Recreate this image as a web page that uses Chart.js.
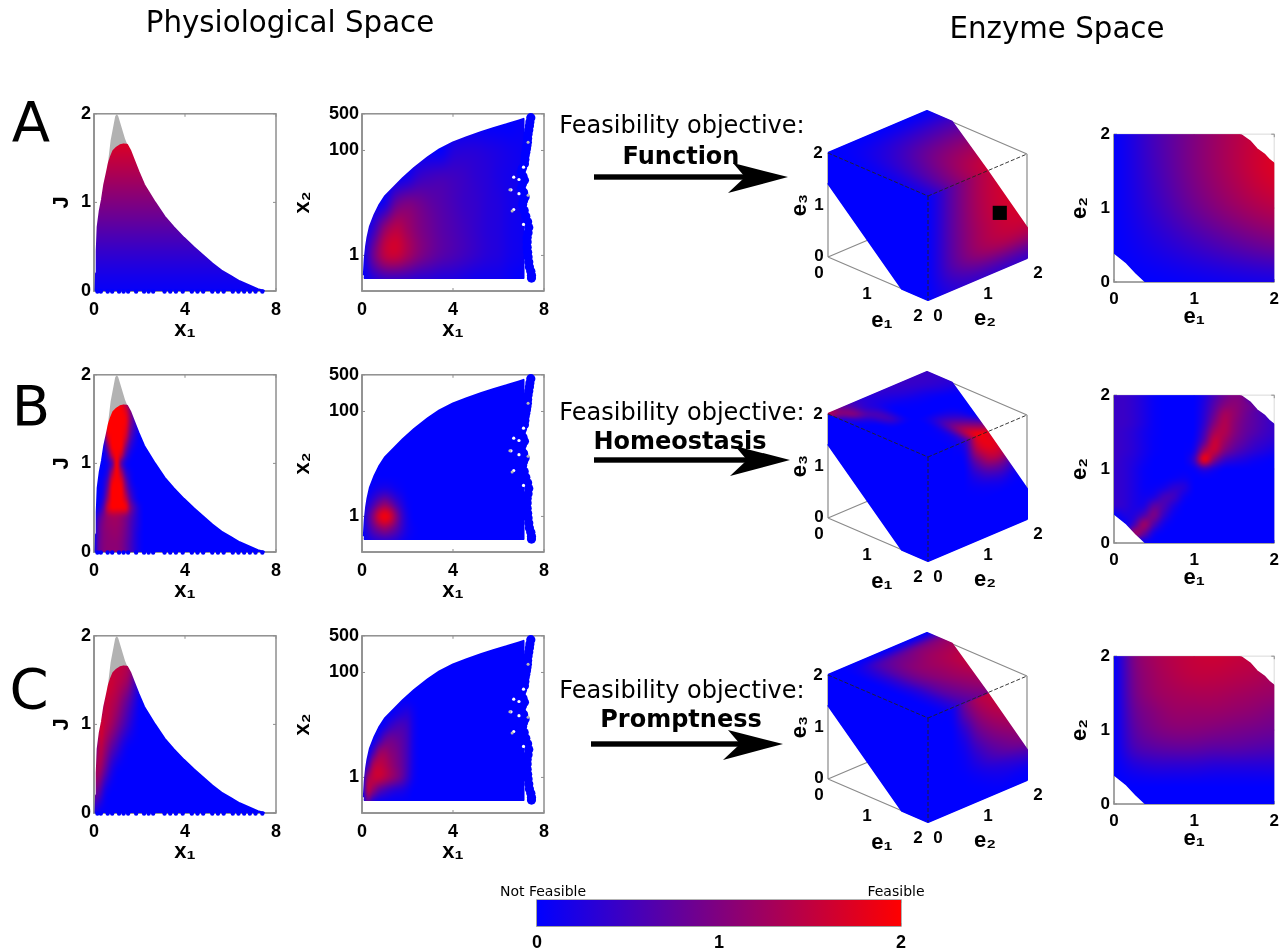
<!DOCTYPE html>
<html>
<head>
<meta charset="utf-8">
<title>Feasibility objectives</title>
<script src="https://cdn.jsdelivr.net/npm/chart.js@4/dist/chart.umd.js"></script>
<style>
  html, body { margin: 0; background: #fff; }
  #fig { position: relative; width: 1286px; height: 950px; overflow: hidden; filter: blur(0.45px); }
  #fig canvas { position: absolute; }
  #fig svg { position: absolute; left: 0; top: 0; }
  .t { position: absolute; transform: translate(-50%, -50%); white-space: nowrap; color: #000; }
  .sans { font-family: "DejaVu Sans"; }
  .tick { font: bold 17px "Liberation Sans", "DejaVu Sans"; }
  .lab { font: bold 22px "Liberation Sans", "DejaVu Sans"; }
</style>
</head>
<body>
<div id="fig"></div>
<script>
// panel text
const rowLetters = ['A', 'B', 'C'];
const objectives = ['Function', 'Homeostasis', 'Promptness'];

// outline of the physiological space, J against x1
const jTopX = [0.07, 0.09, 0.12, 0.16, 0.25, 0.35, 0.45, 0.56, 0.65, 0.75, 0.85, 1, 1.15, 1.3, 1.45, 1.6, 1.75, 1.95, 2.2, 2.68, 3.1, 3.5, 3.95, 4.4, 4.8, 5.2, 5.6, 6, 6.4, 6.8, 7.2, 7.5];
const jTopY = [0, 0.2, 0.45, 0.72, 0.9, 1.03, 1.2, 1.33, 1.44, 1.52, 1.58, 1.62, 1.645, 1.655, 1.65, 1.58, 1.48, 1.35, 1.2, 1, 0.84, 0.72, 0.6, 0.49, 0.4, 0.31, 0.23, 0.17, 0.11, 0.065, 0.02, 0];
const greyX = [0.5, 0.73, 0.93, 1, 1.07, 1.36, 1.7];
const greyY = [1.2, 1.7, 1.97, 2, 1.97, 1.72, 1.5];
const jDotsX = [0.15, 0.3, 0.6, 0.8, 1.1, 1.3, 1.5, 1.85, 2.2, 2.4, 2.6, 3.1, 3.35, 3.6, 3.9, 4.3, 4.55, 4.8, 5.2, 5.45, 5.7, 6.1, 6.35, 6.6, 6.85, 7.1, 7.4];

// outline of x2 against x1 (log axis)
const x2TopX = [0.08, 0.12, 0.18, 0.24, 0.35, 0.55, 0.75, 1, 1.4, 1.8, 2.3, 2.9, 3.4, 4, 4.6, 5.25, 5.8, 6.35, 6.9, 7.1, 7.1, 0.08];
const x2TopY = [0.42, 0.85, 1.5, 2.2, 3.6, 6, 9, 13.3, 20, 30, 47, 75, 105, 143, 180, 226, 270, 316, 375, 400, 0.37, 0.37];
const x2DotsX = [7.42, 7.38, 7.36, 7.33, 7.3, 7.28, 7.27, 7.25, 7.23, 7.2, 7.17, 7.16, 7.14, 7.05, 7, 7.08, 7.14, 7.05, 7, 7.1, 7.17, 7.1, 7.06, 7.13, 7.2, 7.28, 7.33, 7.3, 7.26, 7.26, 7.26, 7.28, 7.3, 7.33, 7.36, 7.42, 7.45, 7.45];
const x2DotsY = [422, 350, 295, 245, 205, 170, 143, 125, 108, 93, 80, 67, 56, 46, 39, 32, 27, 23, 19, 16, 13, 11, 9.3, 7.2, 5.6, 4.4, 3.4, 2.7, 2.2, 1.8, 1.43, 1.15, 0.93, 0.75, 0.6, 0.5, 0.42, 0.37];
const holesX = [6.55, 6.67, 6.9, 7.1, 6.67, 7.1, 6.9];
const holesY = [17.8, 31, 28, 48, 7.5, 3.9, 15];
const greyDotsX = [7.3, 7.3, 6.5, 6.6];
const greyDotsY = [143, 14, 17.8, 7];

// outline of e2 against e1
const eX = [0, 1.57, 1.7, 1.78, 1.88, 1.94, 2, 2, 0.4, 0.28, 0.16, 0, 0];
const eY = [2, 2, 1.9, 1.8, 1.72, 1.65, 1.6, 0, 0, 0.12, 0.26, 0.4, 2];

// 3D box faces of the feasible block
const topE1 = [0, 0, 0.5, 2, 2];
const topE2 = [0, 2, 2, 1.2, 0];
const leftE1 = [0, 2, 2, 1.48, 0];
const leftE3 = [2, 2, 0, 0, 1.42];
const rightE2 = [0, 1.2, 2, 2, 0];
const rightE3 = [2, 2, 0.58, 0, 0];
const boxEdges = [
  [[0, 0, 0], [0, 0, 2]], [[0, 0, 0], [2, 0, 0]], [[0, 0, 0], [0, 2, 0]], [[2, 0, 0], [2, 2, 0]],
  [[0, 2, 2], [2, 2, 2]], [[2, 2, 0], [2, 2, 2]], [[0, 2, 0], [0, 2, 2]], [[0, 0, 2], [0, 2, 2]]
];
const frontEdges = [[[0, 0, 2], [2, 0, 2]], [[2, 0, 2], [2, 2, 2]], [[2, 0, 2], [2, 0, 0]]];
const markerA = [2, 1.45, 1.09];

// feasibility, rows run from the top of the panel down
const jHeatA = [[2, 2], [1, 1], [0, 0]];
const jHeatB = [
  [0, 0, 0, 1.5, 1.9, 2, 1.8, 1.3, 0.7, 0.3],
  [0, 0, 0, 1.9, 2, 2, 2, 1.7, 1, 0.4],
  [0, 0, 0.9, 2, 2, 2, 2, 1.9, 1.1, 0.5, 0.15],
  [0, 0, 0.7, 2, 2, 2, 2, 1.8, 0.95, 0.4, 0.1],
  [0, 0, 0.3, 1.7, 2, 2, 2, 1.6, 0.7, 0.25],
  [0, 0, 0.05, 1.1, 2, 2, 2, 1.1, 0.4, 0.1],
  [0, 0, 0, 0.5, 1.6, 2, 1.6, 0.6, 0.15],
  [0, 0, 0, 0.15, 0.7, 2, 0.7, 0.15],
  [0, 0, 0, 0.3, 1.3, 2, 1.3, 0.4, 0.1],
  [0, 0, 0.1, 0.6, 1.8, 2, 1.8, 0.8, 0.2],
  [0, 0, 0.15, 0.9, 2, 2, 2, 1.1, 0.4, 0.1],
  [0, 0, 0.3, 1.2, 2, 2, 2, 1.5, 0.65, 0.2],
  [0, 0.1, 0.6, 1.6, 2, 2, 2, 1.9, 1, 0.5, 0.15],
  [0, 0.5, 0.9, 1.2, 1.3, 1.3, 1.2, 1, 0.7, 0.4, 0.15],
  [0, 0.7, 1, 1.15, 1.2, 1.2, 1.1, 0.9, 0.6, 0.35, 0.15],
  [0, 0.7, 1, 1.1, 1.15, 1.15, 1.05, 0.85, 0.6, 0.3, 0.1],
  [0, 0.75, 1, 1.1, 1.1, 1.1, 1, 0.8, 0.55, 0.3, 0.1],
  [0, 0.75, 1, 1.1, 1.1, 1.1, 1, 0.8, 0.55, 0.3, 0.1]
];
const jHeatC = [
  [0, 0, 0, 1.3, 1.5, 1.5, 1.4, 1.2],
  [0, 0, 1.5, 1.6, 1.5, 1.4, 1.2, 0.7, 0.2],
  [0, 0.8, 1.55, 1.45, 1.3, 1, 0.7, 0.35, 0.05],
  [0, 1.6, 1.5, 1.3, 1, 0.7, 0.4, 0.15],
  [0.5, 1.5, 1.2, 0.8, 0.5, 0.2, 0.03],
  [1.3, 1.3, 0.8, 0.3, 0.05],
  [1, 0.7, 0.15],
  [0.2]
];
const x2HeatA = [
  [0, 0, 0, 0, 0, 0, 0, 0, 0, 0, 0, 0, 0, 0, 0.05],
  [0, 0, 0, 0, 0, 0, 0, 0, 0.25, 0.3, 0.3, 0.25, 0.2, 0.15, 0.1],
  [0, 0, 0, 0, 0.1, 0.4, 0.5, 0.55, 0.5, 0.45, 0.35, 0.3, 0.2, 0.15, 0.1],
  [0, 0, 0.1, 0.8, 1, 0.9, 0.75, 0.65, 0.55, 0.45, 0.4, 0.3, 0.25, 0.15, 0.1],
  [0, 0.4, 1.2, 1.5, 1.25, 1, 0.85, 0.7, 0.6, 0.5, 0.4, 0.3, 0.25, 0.15, 0.1],
  [0, 0.9, 1.55, 1.65, 1.35, 1.05, 0.85, 0.7, 0.6, 0.5, 0.4, 0.3, 0.25, 0.15, 0.1],
  [0, 0.2, 0.3, 0.3, 0.3, 0.25, 0.25, 0.2, 0.2, 0.15, 0.1, 0.1, 0.1, 0.05]
];
const x2HeatB = [
  [0],
  [0],
  [0, 0, 0.1, 0.2, 0.25, 0.2, 0.1, 0.05],
  [0, 0.2, 0.5, 0.85, 1.05, 0.85, 0.5, 0.25, 0.05],
  [0, 0.5, 1.1, 1.75, 2, 1.75, 1.1, 0.5, 0.15],
  [0, 0.35, 0.7, 0.95, 1.1, 0.95, 0.7, 0.4, 0.15, 0.05],
  [0, 0.1, 0.2, 0.25, 0.25, 0.25, 0.2, 0.1, 0.05]
];
const x2HeatC = [
  [0],
  [0, 0, 0, 0, 0, 0, 0.1, 0.2, 0.25, 0.1],
  [0, 0, 0, 0, 0.1, 0.35, 0.5, 0.55, 0.45, 0.15],
  [0, 0, 0, 0.3, 0.7, 0.85, 0.8, 0.7, 0.5, 0.15],
  [0, 0, 0.5, 1.1, 1.2, 1.05, 0.95, 0.75, 0.5, 0.15],
  [0, 0.4, 1.3, 1.5, 1.4, 1.2, 1, 0.8, 0.5, 0.15],
  [0, 1.2, 1.55, 1.6, 1.45, 1.25, 1.05, 0.8, 0.45, 0.12],
  [0, 1.4, 1.1, 0.7, 0.5, 0.35, 0.25, 0.2, 0.1],
  [0, 0.6, 0.1]
];
const eHeatA = [
  [0, 0.55, 1, 1.4, 1.7],
  [0, 0.5, 1, 1.4, 1.75],
  [0, 0.4, 0.85, 1.2, 1.45],
  [0, 0.2, 0.45, 0.7, 0.9],
  [0, 0, 0.05, 0.1, 0.15]
];
const eHeatB = [
  [0.45, 0.45, 0.35, 0.2, 0.05, 0, 0, 0, 0, 0.2, 0.55, 0.85, 1, 0.9],
  [0.45, 0.45, 0.35, 0.2, 0.05, 0, 0, 0, 0, 0.25, 0.65, 1, 1.1, 0.95, 0.75, 0.55, 0.4],
  [0.45, 0.45, 0.35, 0.2, 0.05, 0, 0, 0, 0, 0.3, 0.8, 1.3, 1.15, 0.9, 0.7, 0.55, 0.4],
  [0.45, 0.45, 0.35, 0.2, 0.05, 0, 0, 0, 0, 0.35, 1, 1.4, 1.1, 0.85, 0.7, 0.55, 0.4],
  [0.45, 0.4, 0.3, 0.15, 0.05, 0, 0, 0, 0, 0.5, 1.3, 1.4, 1.05, 0.8, 0.65, 0.5, 0.4],
  [0.45, 0.4, 0.3, 0.15, 0.03, 0, 0, 0, 0.05, 0.7, 1.6, 1.25, 0.9, 0.7, 0.5, 0.4, 0.3],
  [0.45, 0.4, 0.3, 0.15, 0.03, 0, 0, 0, 0.15, 1.3, 1.6, 1, 0.7, 0.5, 0.35, 0.25, 0.15],
  [0.45, 0.35, 0.25, 0.1, 0, 0, 0, 0, 0.4, 2, 1, 0.45, 0.3, 0.2, 0.1, 0.05],
  [0.4, 0.35, 0.2, 0.05, 0, 0, 0, 0, 0.05, 0.35, 0.15],
  [0.4, 0.35, 0.2, 0.05, 0, 0, 0.05, 0.1],
  [0.4, 0.35, 0.2, 0.05, 0.05, 0.15, 0.35, 0.3],
  [0.4, 0.35, 0.2, 0.1, 0.2, 0.55, 0.5, 0.1],
  [0.4, 0.35, 0.2, 0.2, 0.75, 0.6, 0.2],
  [0, 0.2, 0.25, 0.6, 1, 0.4, 0.05],
  [0, 0, 0.5, 1.3, 0.6, 0.1],
  [0, 0, 1.3, 0.8, 0.1],
  [0]
];
const eHeatC = [
  [0, 1, 1.3, 1.45, 1.55, 1.6, 1.55, 1.5, 1.4],
  [0, 0.95, 1.25, 1.4, 1.5, 1.5, 1.45, 1.4, 1.3],
  [0, 0.9, 1.2, 1.3, 1.35, 1.35, 1.3, 1.25, 1.2],
  [0, 0.8, 1.05, 1.2, 1.2, 1.2, 1.15, 1.1, 1],
  [0, 0.7, 0.95, 1.05, 1.05, 1, 0.95, 0.9, 0.85],
  [0, 0.55, 0.7, 0.75, 0.75, 0.7, 0.7, 0.65, 0.6],
  [0, 0.2, 0.3, 0.3, 0.3, 0.25, 0.25, 0.25, 0.25],
  [0],
  [0]
];
const topHeatB = [
  [0.45, 0.4, 0.3, 0.1],
  [0.45, 0.4, 0.25, 0.05],
  [0.45, 0.35, 0.15, 0, 0, 0, 0, 0.4, 1],
  [0.4, 0.3, 0.1, 0, 0, 0.25, 0.6, 1.1, 1.7],
  [0.35, 0.2, 0.05, 0, 0, 0.4, 0.9, 1.5, 2],
  [0.3, 0.2, 0.05, 0, 0, 0, 0.1, 0.2, 0.4],
  [0.5, 0.4, 0.6, 0.5],
  [0.9, 1.1, 0.3],
  [1.5, 0.3]
];
const rightHeatA = [
  [0, 0.75, 1.35, 1.65, 1.7],
  [0, 0.75, 1.35, 1.65, 1.7],
  [0, 0.75, 1.3, 1.6, 1.7],
  [0, 0.7, 1.2, 1.4, 1.4],
  [0, 0.3, 0.4, 0.4, 0.4]
];
const rightHeatB = [
  [0, 0, 0, 0.3, 1.9, 1.7, 0.8],
  [0, 0, 0, 0.1, 1.5, 1.9, 1.5, 0.4],
  [0, 0, 0, 0, 0.8, 1.5, 1.5, 0.6],
  [0, 0, 0, 0, 0.3, 0.7, 0.8, 0.4],
  [0, 0, 0, 0, 0.05, 0.15, 0.25, 0.1],
  [0], [0], [0], [0]
];
const rightHeatC = [
  [0, 0, 0.1, 0.9, 1.4, 1.55, 1.6, 1.6, 1.6],
  [0, 0, 0.05, 0.7, 1.2, 1.45, 1.55, 1.55, 1.55],
  [0, 0, 0, 0.4, 0.95, 1.25, 1.4, 1.45, 1.45],
  [0, 0, 0, 0.2, 0.7, 1, 1.2, 1.3, 1.35],
  [0, 0, 0, 0.1, 0.45, 0.75, 0.95, 1.1, 1.2],
  [0, 0, 0, 0.05, 0.25, 0.5, 0.7, 0.85, 0.95],
  [0, 0, 0, 0, 0.08, 0.2, 0.3, 0.4, 0.5],
  [0, 0, 0, 0, 0, 0.05, 0.1, 0.1, 0.1],
  [0]
];

// colourbar
const barValues = [0, 1, 2];

const BLUE = 'rgb(0,0,255)';
const GREY = '#8f8f8f';
const titleFont = { family: 'Liberation Sans, DejaVu Sans', weight: 'bold', size: 22 };
const fig = document.getElementById('fig');
Chart.defaults.animation = false;
Chart.defaults.layout.autoPadding = false;

function colourOf(v) {
  const r = Math.round(v / 2 * 255);
  return 'rgb(' + r + ',0,' + (255 - r) + ')';
}

function zip(xs, ys) {
  return xs.map((x, i) => ({ x: x, y: ys[i] }));
}

// paints a value table, smoothed, into a pattern the size of the chart
function heatPattern(chart, grid, place) {
  const rows = grid.v;
  const nc = Math.max(...rows.map(r => r.length), grid.cols || 0);
  const nr = rows.length;
  const small = document.createElement('canvas');
  small.width = nc;
  small.height = nr;
  const s = small.getContext('2d');
  rows.forEach((row, j) => {
    for (let i = 0; i < nc; i++) {
      s.fillStyle = colourOf(row[i] || 0);
      s.fillRect(i, j, 1, 1);
    }
  });
  const off = document.createElement('canvas');
  off.width = chart.width;
  off.height = chart.height;
  const c = off.getContext('2d');
  c.fillStyle = BLUE;
  c.fillRect(0, 0, off.width, off.height);
  const o = place(grid.x0, grid.y0);
  const u = place(grid.x0 + grid.dx, grid.y0);
  const w = place(grid.x0, grid.y0 + grid.dy);
  const ux = u.x - o.x, uy = u.y - o.y, vx = w.x - o.x, vy = w.y - o.y;
  c.imageSmoothingEnabled = true;
  c.imageSmoothingQuality = 'high';
  c.setTransform(ux, uy, vx, vy, o.x - 0.5 * ux - 0.5 * vx, o.y - 0.5 * uy - 0.5 * vy);
  c.drawImage(small, 0, 0);
  return chart.ctx.createPattern(off, 'no-repeat');
}

function heatFill(grid, place) {
  let pattern = null;
  return ctx => {
    const chart = ctx.chart;
    if (!chart.chartArea) return BLUE;
    if (!pattern) pattern = heatPattern(chart, grid, (a, b) => place(chart, a, b));
    return pattern;
  };
}

function linePlace(chart, a, b) {
  return { x: chart.scales.x.getPixelForValue(a), y: chart.scales.y.getPixelForValue(b) };
}

function logPlace(chart, a, b) {
  return { x: chart.scales.x.getPixelForValue(a), y: chart.scales.y.getPixelForValue(Math.pow(10, b)) };
}

function polygon(points, fillStyle, width) {
  return {
    data: points, showLine: true, fill: 'shape', tension: 0, pointRadius: 0,
    backgroundColor: fillStyle, borderColor: fillStyle, borderWidth: width === undefined ? 2 : width,
    borderJoinStyle: 'round'
  };
}

function dots(points, colour, radius) {
  return { data: points, showLine: false, pointRadius: radius, backgroundColor: colour, borderWidth: 0, clip: 8 };
}

// axis frame with the short inward ticks
const framePlugin = {
  id: 'frame',
  beforeDatasetsDraw(chart, args, opts) {
    const a = chart.chartArea;
    const ctx = chart.ctx;
    ctx.save();
    ctx.strokeStyle = opts.fade || opts.colour;
    ctx.lineWidth = 1.5;
    ctx.strokeRect(a.left, a.top, a.right - a.left, a.bottom - a.top);
    ctx.strokeStyle = opts.colour;
    ctx.beginPath();
    ctx.moveTo(a.left, a.top);
    ctx.lineTo(a.left, a.bottom);
    ctx.lineTo(a.right, a.bottom);
    ctx.stroke();
    ctx.lineWidth = 1;
    ctx.beginPath();
    chart.scales.x.ticks.forEach(t => {
      const p = chart.scales.x.getPixelForValue(t.value);
      ctx.moveTo(p, a.top); ctx.lineTo(p, a.top + 3);
      ctx.moveTo(p, a.bottom); ctx.lineTo(p, a.bottom - 3);
    });
    if (chart.scales.y.type !== 'category') {
      chart.scales.y.ticks.forEach(t => {
        const p = chart.scales.y.getPixelForValue(t.value);
        ctx.moveTo(a.left, p); ctx.lineTo(a.left + 3, p);
        ctx.moveTo(a.right, p); ctx.lineTo(a.right - 3, p);
      });
    }
    ctx.stroke();
    ctx.restore();
  }
};

function addCanvas(left, top, width, height) {
  const cv = document.createElement('canvas');
  cv.width = width;
  cv.height = height;
  cv.style.left = left + 'px';
  cv.style.top = top + 'px';
  fig.appendChild(cv);
  return cv;
}

function axis(o) {
  return {
    type: o.type || 'linear',
    min: o.min,
    max: o.max,
    border: { display: false },
    grid: { display: false, drawTicks: false, tickLength: 0 },
    afterBuildTicks: s => { s.ticks = o.ticks.map(v => ({ value: v })); },
    afterFit: s => { if (o.width) s.width = o.width; if (o.height) s.height = o.height; },
    ticks: {
      autoSkip: false, maxRotation: 0, minRotation: 0, color: '#000', padding: o.pad,
      font: { family: 'Liberation Sans, DejaVu Sans', weight: 'bold', size: o.size || 18 },
      callback: v => String(v)
    },
    title: { display: !!o.title, text: o.title, color: '#000', font: titleFont, padding: 0 }
  };
}

function panel(box, m, xAxis, yAxis, datasets, frame) {
  const cv = addCanvas(box.left - m.l, box.top - m.t, box.w + m.l + m.r, box.h + m.t + m.b);
  return new Chart(cv, {
    type: 'scatter',
    data: { datasets: datasets },
    plugins: [framePlugin],
    options: {
      responsive: false,
      events: [],
      layout: { padding: { left: 0, right: m.r, top: m.t, bottom: 0 } },
      plugins: { legend: { display: false }, tooltip: { enabled: false }, frame: frame },
      scales: { x: axis(Object.assign({ height: m.b }, xAxis)), y: axis(Object.assign({ width: m.l }, yAxis)) }
    }
  });
}

function jPanel(rowY, grid) {
  panel({ left: 94, top: 112 + rowY, w: 182, h: 179 }, { l: 45, r: 20, t: 12, b: 52 },
    { min: 0, max: 8, ticks: [0, 4, 8], pad: 8, title: 'x₁' },
    { min: 0, max: 2, ticks: [0, 1, 2], pad: 3, title: 'J' },
    [
      dots(zip(jDotsX, jDotsX.map(() => -0.005)), BLUE, 2.2),
      polygon(zip(jTopX, jTopY), heatFill(grid, linePlace)),
      polygon(zip(greyX, greyY), '#b2b2b2', 0)
    ],
    { colour: GREY });
}

function x2Panel(rowY, grid) {
  panel({ left: 362, top: 112 + rowY, w: 182, h: 179 }, { l: 72, r: 20, t: 12, b: 52 },
    { min: 0, max: 8, ticks: [0, 4, 8], pad: 8, title: 'x₁' },
    { type: 'logarithmic', min: 0.21, max: 500, ticks: [1, 100, 500], pad: 3, title: 'x₂' },
    [
      dots(zip(greyDotsX, greyDotsY), '#b8b8b8', 1.5),
      dots(zip(holesX, holesY), '#ffffff', 1.6),
      dots(zip(x2DotsX, x2DotsY), BLUE, 4.6),
      polygon(zip(x2TopX, x2TopY), heatFill(grid, logPlace))
    ],
    { colour: GREY });
}

function ePanel(rowY, grid) {
  panel({ left: 1114, top: 132 + rowY, w: 165, h: 150 }, { l: 47, r: 7, t: 12, b: 48 },
    { min: 0, max: 2, ticks: [0, 1, 2], pad: 7, size: 17, title: 'e₁' },
    { min: 0, max: 2, ticks: [0, 1, 2], pad: 4, size: 17, title: 'e₂' },
    [polygon(zip(eX, eY), heatFill(grid, linePlace))],
    { colour: GREY, fade: '#e6e6e6' });
}

// axonometric view of the enzyme box, in pixels of the cube's own plane
function project(e) {
  return { x: 50 * e[0] + 49.5 * e[1], y: -21.5 * e[0] + 21 * e[1] + 52 * e[2] };
}

function edgeSet(edges, colour, width, dash) {
  const pts = [];
  edges.forEach(pair => {
    pts.push(project(pair[0]), project(pair[1]), { x: NaN, y: NaN });
  });
  return { data: pts, showLine: true, spanGaps: false, pointRadius: 0, borderColor: colour, borderWidth: width, borderDash: dash || [] };
}

function cubePanel(rowY, topGrid, rightGrid, marker) {
  const cv = addCanvas(808, 102 + rowY, 260, 210);
  const topPlace = (chart, a, b) => { const p = project([a, b, 2]); return linePlace(chart, p.x, p.y); };
  const rightPlace = (chart, a, b) => { const p = project([2, a, b]); return linePlace(chart, p.x, p.y); };
  const sets = [];
  if (marker) sets.push({ data: [project(marker)], showLine: false, pointStyle: 'rect', pointRadius: 10, backgroundColor: '#000', borderWidth: 0 });
  sets.push(edgeSet(frontEdges, '#222', 0.9, [4, 2]));
  sets.push(polygon(topE1.map((v, i) => project([v, topE2[i], 2])), heatFill(topGrid, topPlace)));
  sets.push(polygon(rightE2.map((v, i) => project([2, v, rightE3[i]])), heatFill(rightGrid, rightPlace)));
  sets.push(polygon(leftE1.map((v, i) => project([v, 0, leftE3[i]])), BLUE));
  sets.push(edgeSet(boxEdges, '#8a8a8a', 1.2));
  new Chart(cv, {
    type: 'scatter',
    data: { datasets: sets },
    options: {
      responsive: false,
      events: [],
      layout: { padding: 0 },
      plugins: { legend: { display: false }, tooltip: { enabled: false } },
      scales: {
        x: { type: 'linear', display: false, min: -20, max: 240 },
        y: { type: 'linear', display: false, min: -55, max: 155 }
      }
    }
  });
}

function text(str, x, y, cls, css) {
  const d = document.createElement('div');
  d.className = 't ' + cls;
  d.textContent = str;
  d.style.left = x + 'px';
  d.style.top = y + 'px';
  if (css) d.style.cssText += css;
  fig.appendChild(d);
}

function cubeLabels(rowY) {
  const ticks = [['2', 818, 153], ['1', 819, 205], ['0', 819, 256], ['0', 819, 273], ['1', 867, 294],
    ['2', 918, 316], ['0', 938, 316], ['1', 988, 294], ['2', 1038, 273]];
  ticks.forEach(t => text(t[0], t[1], t[2] + rowY, 'tick'));
  text('e₁', 882, 320 + rowY, 'lab');
  text('e₂', 985, 318 + rowY, 'lab');
  text('e₃', 799, 205 + rowY, 'lab', 'transform:translate(-50%,-50%) rotate(-90deg);');
}

function arrow(x0, tip, y) {
  const ns = 'http://www.w3.org/2000/svg';
  const svg = document.createElementNS(ns, 'svg');
  svg.setAttribute('width', 1286);
  svg.setAttribute('height', 950);
  const shaft = document.createElementNS(ns, 'rect');
  shaft.setAttribute('x', x0);
  shaft.setAttribute('y', y - 2.7);
  shaft.setAttribute('width', tip - 40 - x0);
  shaft.setAttribute('height', 5.4);
  const head = document.createElementNS(ns, 'polygon');
  head.setAttribute('points', [[tip, y], [tip - 60, y + 16], [tip - 43, y], [tip - 55, y - 14]].join(' '));
  svg.appendChild(shaft);
  svg.appendChild(head);
  fig.appendChild(svg);
}

function colourbar() {
  const cv = addCanvas(537 - 20, 900 - 6, 364 + 40, 26 + 6 + 28);
  new Chart(cv, {
    type: 'bar',
    data: {
      labels: [''],
      datasets: [{
        data: [[barValues[0], barValues[barValues.length - 1]]],
        barPercentage: 1,
        categoryPercentage: 1,
        backgroundColor: ctx => {
          const chart = ctx.chart;
          if (!chart.chartArea) return BLUE;
          const x = chart.scales.x;
          const g = chart.ctx.createLinearGradient(x.getPixelForValue(0), 0, x.getPixelForValue(2), 0);
          barValues.forEach(v => g.addColorStop(v / 2, colourOf(v)));
          return g;
        }
      }]
    },
    plugins: [framePlugin],
    options: {
      indexAxis: 'y',
      responsive: false,
      events: [],
      layout: { padding: { left: 20, right: 20, top: 6, bottom: 0 } },
      plugins: { legend: { display: false }, tooltip: { enabled: false }, frame: { colour: '#9a9a9a' } },
      scales: {
        x: axis({ min: 0, max: 2, ticks: barValues, pad: 6, title: '', height: 28 }),
        y: { display: false, type: 'category' }
      }
    }
  });
}

function build() {
  const rowY = [0, 261, 522];
  const jGrids = [
    { x0: 0, dx: 8, y0: 2, dy: -1, v: jHeatA },
    { x0: 0, dx: 0.2, y0: 1.7, dy: -0.1, cols: 16, v: jHeatB },
    { x0: 0, dx: 0.25, y0: 1.75, dy: -0.25, cols: 12, v: jHeatC }
  ];
  const x2Grids = [
    { x0: 0, dx: 0.5, y0: 2.5, dy: -0.5, cols: 17, v: x2HeatA },
    { x0: 0, dx: 0.25, y0: 1, dy: -0.25, cols: 11, v: x2HeatB },
    { x0: 0, dx: 0.25, y0: 1.5, dy: -0.25, cols: 12, v: x2HeatC }
  ];
  const eGrids = [
    { x0: 0, dx: 0.5, y0: 2, dy: -0.5, v: eHeatA },
    { x0: 0, dx: 0.125, y0: 2, dy: -0.125, cols: 17, v: eHeatB },
    { x0: 0, dx: 0.25, y0: 2, dy: -0.25, v: eHeatC }
  ];
  const topGrids = [eGrids[0], { x0: 0, dx: 0.25, y0: 2, dy: -0.25, cols: 9, v: topHeatB }, eGrids[2]];
  const rightGrids = [
    { x0: 0, dx: 0.5, y0: 2, dy: -0.5, v: rightHeatA },
    { x0: 0, dx: 0.25, y0: 2, dy: -0.25, cols: 9, v: rightHeatB },
    { x0: 0, dx: 0.25, y0: 2, dy: -0.25, cols: 9, v: rightHeatC }
  ];
  rowY.forEach((y, i) => {
    jPanel(y, jGrids[i]);
    x2Panel(y, x2Grids[i]);
    ePanel(y, eGrids[i]);
    cubePanel(y, topGrids[i], rightGrids[i], i === 0 ? markerA : null);
    cubeLabels(y);
  });
  colourbar();

  text('Physiological Space', 290, 22, 'sans', 'font-size:29.3px;');
  text('Enzyme Space', 1057, 28, 'sans', 'font-size:29.3px;');
  const letterX = [31, 31, 29];
  const letterY = [121, 405, 688];
  rowLetters.forEach((l, i) => text(l, letterX[i], letterY[i], 'sans', 'font-size:56px;'));
  const feasY = [125, 412, 690];
  const nameY = [156, 441, 719];
  const nameX = [681, 680, 681];
  objectives.forEach((n, i) => {
    text('Feasibility objective:', 682, feasY[i], 'sans', 'font-size:24px;');
    text(n, nameX[i], nameY[i], 'sans', 'font-size:24px;font-weight:bold;');
  });
  arrow(594, 788, 177);
  arrow(594, 790, 460);
  arrow(591, 783, 744);
  text('Not Feasible', 543, 891, 'sans', 'font-size:14px;');
  text('Feasible', 896, 891, 'sans', 'font-size:14px;');
}

build();
</script>
</body>
</html>
